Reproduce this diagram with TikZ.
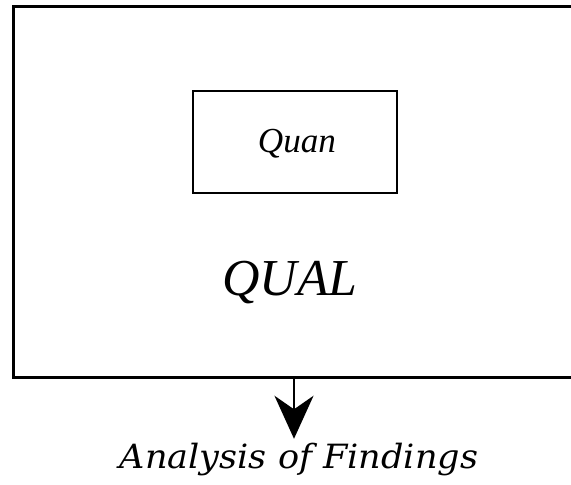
\documentclass[tikz,border=0pt]{standalone}
\usepackage{fontspec}
\setmainfont{Liberation Serif}
\newfontfamily\wideserif{DejaVu Serif}
\usetikzlibrary{arrows.meta}
\begin{document}
\begin{tikzpicture}[x=0.02cm, y=-0.02cm, line cap=rect, line join=miter,
    box/.style={draw, inner sep=0pt},
    lbl/.style={inner sep=0pt, anchor=base},
    link/.style={line width=1.2pt, -{Stealth[length=0.86cm, width=0.78cm, inset=0.27cm]}}]
  \clip (0,0) rectangle (571,484);
  \node[box, line width=1.7pt, minimum width=11.24cm, minimum height=7.44cm] (outer) at (294,192) {};
  \node[box, line width=1.3pt, minimum width=4.08cm, minimum height=2.04cm] (inner) at (295,142) {};
  \node[lbl] (quan) at (297,152) {\fontsize{20}{24}\selectfont\itshape Quan};
  \node[lbl] (qual) at (290,295) {\fontsize{29.5}{34}\selectfont\itshape QUAL};
  \node[lbl, inner sep=2pt] (findings) at (299,468)
    {\scalebox{1.05}[1]{\fontsize{19}{22}\selectfont\wideserif\itshape Analysis of Findings}};
  \draw[link] (outer.south) -- (outer.south |- findings.north);
\end{tikzpicture}
\end{document}
